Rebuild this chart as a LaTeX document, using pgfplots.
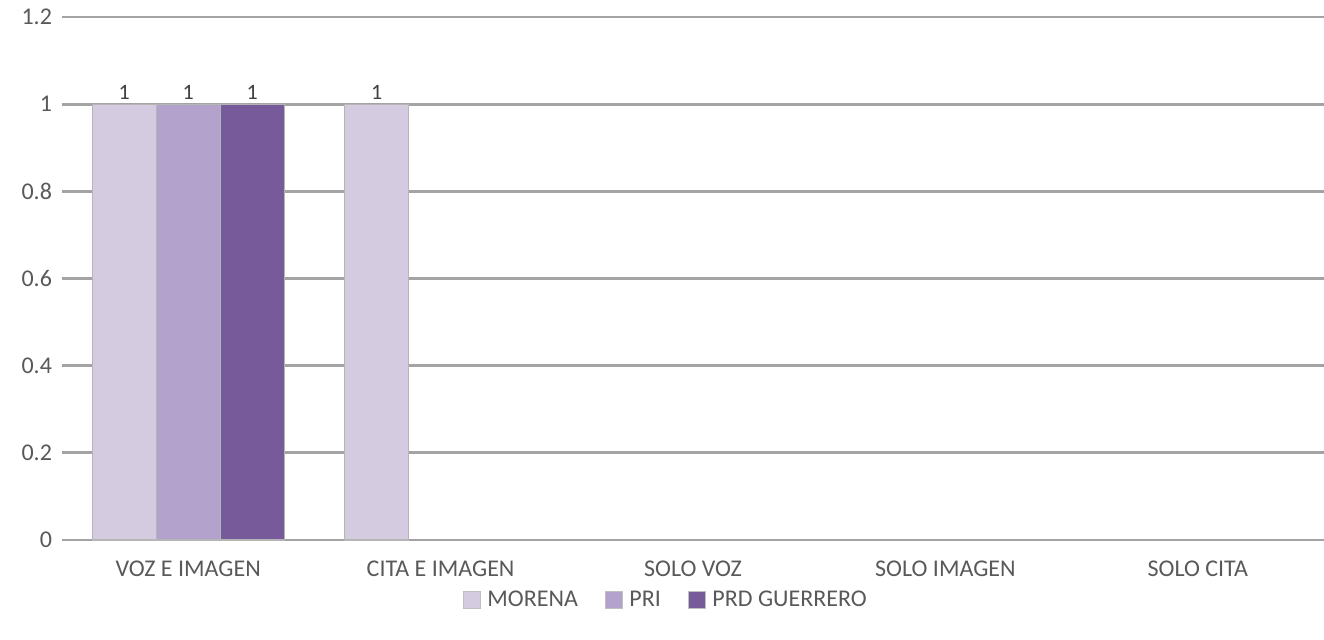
\documentclass[border=0pt]{standalone}
\usepackage{pgfplots}
\pgfplotsset{compat=1.18}
\usepackage{fontspec}
\setmainfont{Carlito}
\definecolor{cMor}{HTML}{D5CBE1}
\definecolor{cPri}{HTML}{B3A2CB}
\definecolor{cPrd}{HTML}{765A9A}
\definecolor{cGrid}{HTML}{A3A3A3}
\definecolor{cTxt}{HTML}{595959}
\begin{document}
\begin{tikzpicture}
\path[use as bounding box] (-46.5pt,-74.25pt) rectangle (946.5pt,405pt);
\begin{axis}[
  scale only axis,
  width=946.5pt, height=392.25pt,
  ymin=0, ymax=1.2,
  ytick={0,0.2,0.4,0.6,0.8,1,1.2},
  xmin=-0.5, xmax=4.5,
  xtick={0,1,2,3,4},
  xticklabels={VOZ E IMAGEN, CITA E IMAGEN, SOLO VOZ, SOLO IMAGEN, SOLO CITA},
  ybar=0pt, bar width=48pt,
  axis line style={draw=none},
  major tick length=0pt,
  ymajorgrids,
  grid style={cGrid, line width=2.2pt},
  tick label style={font=\fontsize{18pt}{21pt}\selectfont, text=cTxt},
  yticklabel style={xshift=-4pt},
  xticklabel style={yshift=-12pt},
  /pgf/number format/assume math mode=true,
  /pgf/number format/.cd, fixed, precision=1,
  /tikz/.cd,
  nodes near coords,
  nodes near coords style={font=\fontsize{16.5pt}{18pt}\selectfont, text=black!75},
  point meta=explicit symbolic,
  legend style={at={(0.4786,-0.1147)}, anchor=center, draw=none, fill=none,
    legend columns=-1, font=\fontsize{18pt}{21pt}\selectfont, text=cTxt,
    /tikz/every even column/.append style={column sep=18pt}},
  legend image code/.code={\draw[#1, draw=cGrid!70, line width=0.5pt] (0pt,-6.5pt) rectangle (13pt,6.5pt);\path (16pt,0pt);},
]
\addplot[fill=cMor, draw=cGrid!80, line width=0.8pt] coordinates {(0,1) [1] (1,1) [1]};
\addplot[fill=cPri, draw=cGrid!80, line width=0.8pt] coordinates {(0,1) [1]};
\addplot[fill=cPrd, draw=cGrid!80, line width=0.8pt] coordinates {(0,1) [1]};
\legend{MORENA, PRI, PRD GUERRERO}
\end{axis}
\end{tikzpicture}
\end{document}
